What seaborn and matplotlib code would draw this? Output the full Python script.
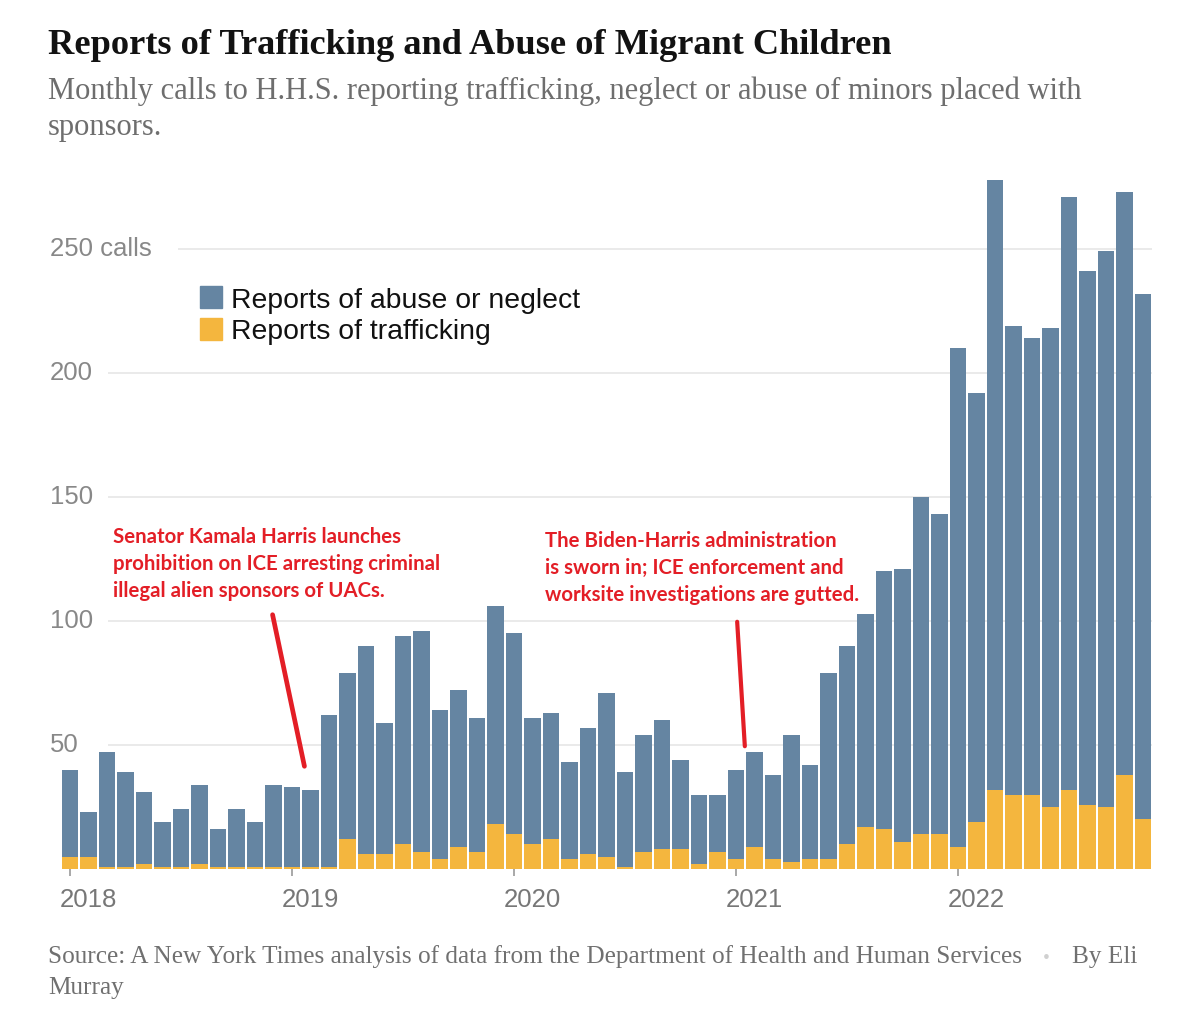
import pandas as pd
import matplotlib.pyplot as plt
import matplotlib.transforms as mtransforms
import seaborn as sns
from matplotlib.patches import Rectangle

# ── Data (monthly calls, Jan 2018 – Nov 2022) ─────────────────
months = pd.date_range('2018-01-01', periods=59, freq='MS').strftime('%Y-%m')

abuse = [35, 18, 46, 38, 29, 18, 23, 32, 15, 23, 18, 33,
         32, 31, 61, 67, 84, 53, 84, 89, 60, 63, 54, 88,
         81, 51, 51, 39, 51, 66, 38, 47, 52, 36, 28, 23,
         36, 38, 34, 51, 38, 75, 80, 86, 104, 110, 136, 129,
         201, 173, 246, 189, 184, 193, 239, 215, 224, 235, 212]

trafficking = [5, 5, 1, 1, 2, 1, 1, 2, 1, 1, 1, 1,
               1, 1, 1, 12, 6, 6, 10, 7, 4, 9, 7, 18,
               14, 10, 12, 4, 6, 5, 1, 7, 8, 8, 2, 7,
               4, 9, 4, 3, 4, 4, 10, 17, 16, 11, 14, 14,
               9, 19, 32, 30, 30, 25, 32, 26, 25, 38, 20]

year_labels = ['2018', '2019', '2020', '2021', '2022']
year_ticks = [0, 12, 24, 36, 48]
grid_values = [50, 100, 150, 200, 250]
y_labels = ['50', '100', '150', '200', '250 calls']

df = pd.DataFrame({'month': months, 'abuse': abuse, 'trafficking': trafficking})
df['total'] = df['abuse'] + df['trafficking']

BLUE = '#6585a2'
YELLOW = '#f4b63e'
RED = '#e31e26'

W, H = 1200, 1025


def fxy(x, y):
    # reference pixel (top-left origin) -> figure fraction
    return x / W, 1 - y / H


# ── Figure ────────────────────────────────────────────────────
sns.set_theme(style='white')
plt.rcParams['font.family'] = ['Liberation Sans', 'DejaVu Sans']

fig = plt.figure(figsize=(12, 10.25), dpi=100)
ax = fig.add_axes([50 / W, (H - 869) / H, 1102 / W, (869 - 170) / H])

sns.barplot(data=df, x='month', y='total', color=BLUE, saturation=1,
            width=0.88, errorbar=None, linewidth=0, ax=ax, zorder=2)
sns.barplot(data=df, x='month', y='trafficking', color=YELLOW, saturation=1,
            width=0.88, errorbar=None, linewidth=0, ax=ax, zorder=3)

px_per_month = 18.5
x0 = -20 / px_per_month
x1 = (1152 - 70) / px_per_month
ax.set_xlim(x0, x1)
ax.set_ylim(0, (869 - 170) / 2.48)

# gridlines start just right of the labels
for v, lab in zip(grid_values, y_labels):
    start = (178 - 70) / px_per_month if 'calls' in lab else (108 - 70) / px_per_month
    ax.hlines(v, start, x1, color='#e6e6e6', linewidth=1.2, zorder=0.5)
    ax.text(x0, v, lab, ha='left', va='center', fontsize=18.5, color='#888888')

for s in ax.spines.values():
    s.set_visible(False)
ax.set_yticks([])
ax.set_xticks(year_ticks, year_labels)
ax.tick_params(axis='x', length=5, width=1.2, color='#999999', pad=9,
               labelsize=18.5, labelcolor='#777777', bottom=True)
offset = mtransforms.ScaledTranslation(-10 / 100, 0, fig.dpi_scale_trans)
for lab in ax.get_xticklabels():
    lab.set_horizontalalignment('left')
    lab.set_transform(lab.get_transform() + offset)
ax.set_xlabel('')
ax.set_ylabel('')

# ── Legend (manual) ───────────────────────────────────────────
for (y_top, col, txt, base) in [(286, BLUE, 'Reports of abuse or neglect', 307.5),
                                (318, YELLOW, 'Reports of trafficking', 339)]:
    fig.patches.append(Rectangle(fxy(200, y_top + 22), 22 / W, 22 / H,
                                 transform=fig.transFigure, color=col))
    fig.text(*fxy(231, base), txt, fontsize=20.4, color='#111111', va='baseline')

# ── Annotations ───────────────────────────────────────────────
note1 = ['Senator Kamala Harris launches',
         'prohibition on ICE arresting criminal',
         'illegal alien sponsors of UACs.']
note2 = ['The Biden-Harris administration',
         'is sworn in; ICE enforcement and',
         'worksite investigations are gutted.']
for i, line in enumerate(note1):
    fig.text(*fxy(113, 543 + 27 * i), line, fontsize=14.7, color=RED,
             fontweight='bold', family=['Lato', 'DejaVu Sans'], va='baseline')
for i, line in enumerate(note2):
    fig.text(*fxy(545, 547 + 27 * i), line, fontsize=14.7, color=RED,
             fontweight='bold', family=['Lato', 'DejaVu Sans'], va='baseline')

ax.annotate('', xy=((305 - 70) / px_per_month, (869 - 769) / 2.48),
            xytext=((272 - 70) / px_per_month, (869 - 612) / 2.48),
            arrowprops=dict(arrowstyle='-', color=RED, lw=3.4), zorder=5)
ax.annotate('', xy=((745 - 70) / px_per_month, (869 - 749) / 2.48),
            xytext=((737 - 70) / px_per_month, (869 - 619) / 2.48),
            arrowprops=dict(arrowstyle='-', color=RED, lw=3.0), zorder=5)

# ── Titles and source ─────────────────────────────────────────
serif = ['Liberation Serif', 'DejaVu Serif']
fig.text(*fxy(48, 54), 'Reports of Trafficking and Abuse of Migrant Children',
         fontsize=26.2, fontweight='bold', color='#121212', family=serif, va='baseline')
fig.text(*fxy(48, 99),
         'Monthly calls to H.H.S. reporting trafficking, neglect or abuse of minors placed with',
         fontsize=22, color='#6e6e6e', family=serif, va='baseline')
fig.text(*fxy(48, 135), 'sponsors.', fontsize=22, color='#6e6e6e', family=serif, va='baseline')

fig.text(*fxy(48, 963),
         'Source: A New York Times analysis of data from the Department of Health and Human Services',
         fontsize=18.2, color='#707070', family=serif, va='baseline')
fig.text(*fxy(1043, 963), '\u2022', fontsize=14, color='#d0d0d0', family=serif, va='baseline')
fig.text(*fxy(1072, 963), 'By Eli', fontsize=18.2, color='#707070', family=serif, va='baseline')
fig.text(*fxy(48, 994), 'Murray', fontsize=18.2, color='#707070', family=serif, va='baseline')

fig.savefig('out.png', dpi=100, facecolor='white')
